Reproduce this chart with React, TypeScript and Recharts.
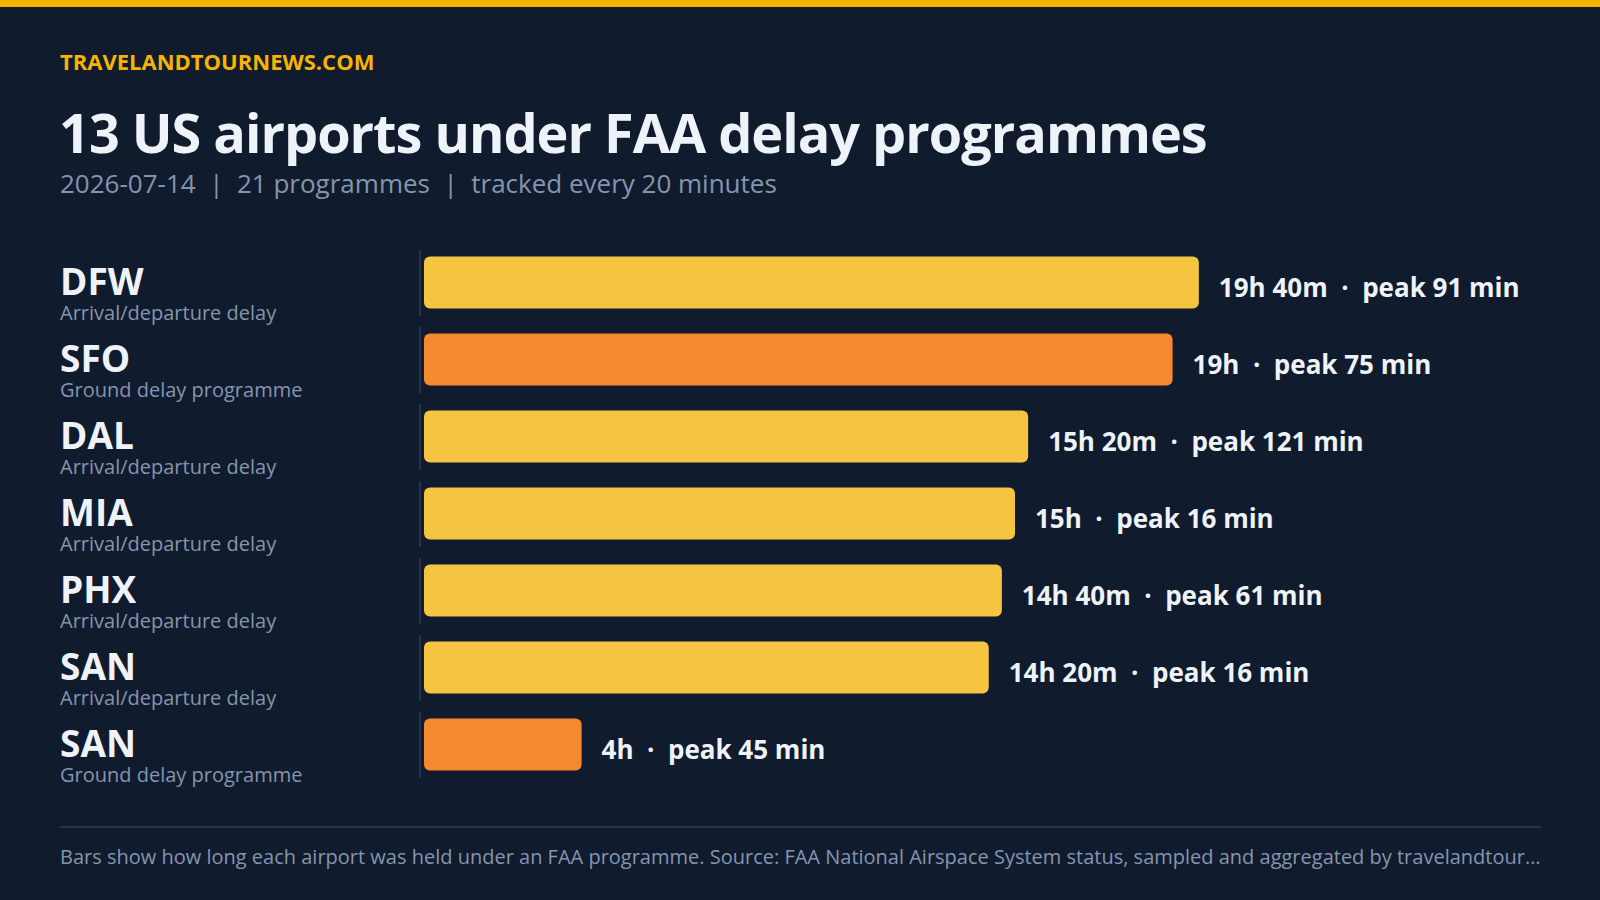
import React from "react";
import { BarChart, Bar, XAxis, YAxis, Cell, LabelList } from "recharts";

const airports = ["DFW", "SFO", "DAL", "MIA", "PHX", "SAN", "SAN"];
const programmeTypes = [
  "Arrival/departure delay",
  "Ground delay programme",
  "Arrival/departure delay",
  "Arrival/departure delay",
  "Arrival/departure delay",
  "Arrival/departure delay",
  "Ground delay programme",
];
const heldMinutes = [1180, 1140, 920, 900, 880, 860, 240];
const peakDelayMinutes = [91, 75, 121, 16, 61, 16, 45];

const BG = "#111b2e";
const GOLD = "#f5b400";
const YELLOW = "#f5c542";
const ORANGE = "#f5892f";
const WHITE = "#eef3fa";
const MUTED = "#8595ae";
const FONT = "'Open Sans', sans-serif";

const rows = airports.map((code, i) => ({
  id: `${code}-${i}`,
  code,
  kind: programmeTypes[i],
  minutes: heldMinutes[i],
  peak: peakDelayMinutes[i],
}));

function fmtDuration(min: number) {
  const h = Math.floor(min / 60);
  const m = min % 60;
  return m ? `${h}h ${m}m` : `${h}h`;
}

function AirportTick(props: any) {
  const { y, payload } = props;
  const row = rows[payload.index] ?? rows.find((r) => r.id === payload.value);
  if (!row) return null;
  return (
    <g>
      <line x1={420} x2={420} y1={y - 32} y2={y + 34} stroke="#24324a" strokeWidth={2} />
      <text x={60} y={y + 13} fill={WHITE} fontSize={37} fontWeight={700} fontFamily={FONT}>
        {row.code}
      </text>
      <text x={60} y={y + 38} fill={MUTED} fontSize={20} fontFamily={FONT}>
        {row.kind}
      </text>
    </g>
  );
}

function ValueLabel(props: any) {
  const { x, y, width, height, index } = props;
  const row = rows[index];
  if (!row) return null;
  return (
    <text
      x={x + width + 20}
      y={y + height / 2 + 14}
      fill={WHITE}
      fontSize={26}
      fontWeight={700}
      fontFamily={FONT}
      style={{ whiteSpace: "pre" }}
    >
      {`${fmtDuration(row.minutes)}  ·  peak ${row.peak} min`}
    </text>
  );
}

export default function App() {
  return (
    <div
      style={{
        position: "fixed",
        left: 0,
        top: 0,
        width: 1600,
        height: 900,
        background: BG,
        fontFamily: FONT,
        overflow: "hidden",
      }}
    >
      <div style={{ position: "absolute", left: 0, top: 0, width: 1600, height: 7, background: GOLD }} />
      <svg width={1600} height={230} style={{ position: "absolute", left: 0, top: 0 }}>
        <text x={60} y={70} fill={GOLD} fontSize={22} fontWeight={700} fontFamily={FONT}>
          TRAVELANDTOURNEWS.COM
        </text>
        <text
          x={59}
          y={153}
          fill={WHITE}
          fontSize={54}
          fontWeight={700}
          fontFamily={FONT}
          letterSpacing={-1}
        >
          13 US airports under FAA delay programmes
        </text>
        <text x={60} y={193} fill={MUTED} fontSize={26} fontFamily={FONT} style={{ whiteSpace: "pre" }}>
          {"2026-07-14  |  21 programmes  |  tracked every 20 minutes"}
        </text>
      </svg>
      <div style={{ position: "absolute", left: 0, top: 0 }}>
        <BarChart
          width={1600}
          height={900}
          data={rows}
          layout="vertical"
          margin={{ top: 243.5, right: 191, bottom: 117.5, left: 64 }}
          barSize={52}
        >
          <XAxis type="number" domain={[0, 1500]} hide />
          <YAxis
            type="category"
            dataKey="id"
            width={360}
            axisLine={false}
            tickLine={false}
            tick={<AirportTick />}
            interval={0}
          />
          <Bar dataKey="minutes" radius={6} isAnimationActive={false}>
            {rows.map((r) => (
              <Cell key={r.id} fill={r.kind.startsWith("Ground") ? ORANGE : YELLOW} />
            ))}
            <LabelList dataKey="minutes" content={<ValueLabel />} />
          </Bar>
        </BarChart>
      </div>
      <div
        style={{ position: "absolute", left: 60, top: 826, width: 1481, height: 2, background: "#26344d" }}
      />
      <svg width={1600} height={60} style={{ position: "absolute", left: 0, top: 840 }}>
        <text x={60} y={24} fill={MUTED} fontSize={20} fontFamily={FONT}>
          Bars show how long each airport was held under an FAA programme. Source: FAA National Airspace System
          status, sampled and aggregated by travelandtour…
        </text>
      </svg>
    </div>
  );
}
